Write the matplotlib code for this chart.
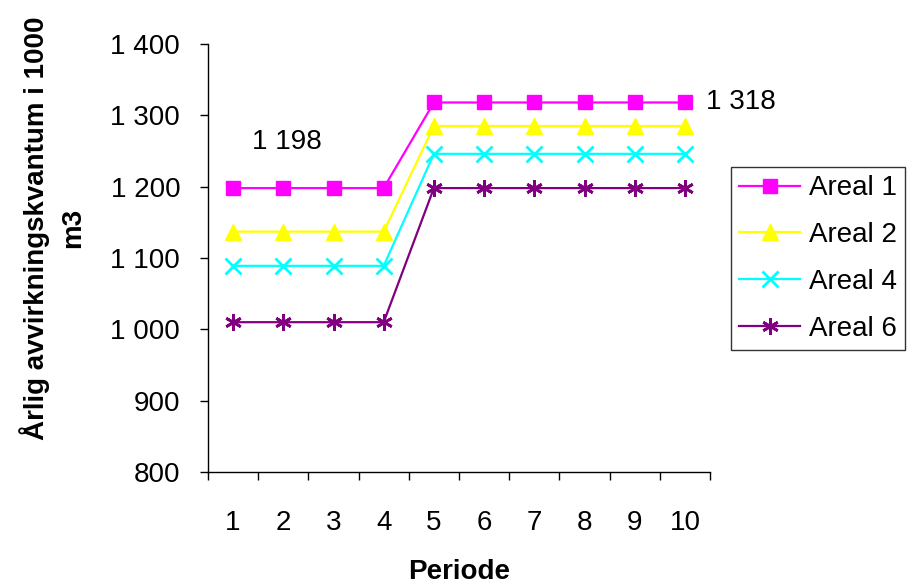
import numpy as np
import matplotlib
matplotlib.use('Agg')
import matplotlib.pyplot as plt
from matplotlib.ticker import FuncFormatter, FixedLocator

plt.rcParams['font.family'] = ['Liberation Sans', 'DejaVu Sans']

# data
periode = [1, 2, 3, 4, 5, 6, 7, 8, 9, 10]
areal1 = [1198, 1198, 1198, 1198, 1318, 1318, 1318, 1318, 1318, 1318]
areal2 = [1137, 1137, 1137, 1137, 1285, 1285, 1285, 1285, 1285, 1285]
areal4 = [1089, 1089, 1089, 1089, 1246, 1246, 1246, 1246, 1246, 1246]
areal6 = [1010, 1010, 1010, 1010, 1198, 1198, 1198, 1198, 1198, 1198]
names = ['Areal 1', 'Areal 2', 'Areal 4', 'Areal 6']
yticks = [800, 900, 1000, 1100, 1200, 1300, 1400]

FS = 20

fig = plt.figure(figsize=(9.09, 5.88), dpi=100)
ax = fig.add_axes([208/909, 1-472/588, 502/909, 428/588])

styles = [('#FF00FF', 's', 10), ('#FFFF00', '^', 11), ('#00FFFF', 'x', 11), ('#800080', (6, 2, 0), 12)]
for ys, name, (c, m, ms) in zip([areal1, areal2, areal4, areal6], names, styles):
    ax.plot(periode, ys, color=c, marker=m, markersize=ms, lw=1.6,
            markeredgewidth=2 if m != 's' and m != '^' else 1, label=name, clip_on=False)

ax.set_xlim(0.5, 10.5)
ax.set_ylim(800, 1400)
ax.set_yticks(yticks)
ax.yaxis.set_major_formatter(FuncFormatter(lambda v, p: '{:,}'.format(int(v)).replace(',', ' ')))
ax.set_xticks(periode)
ax.xaxis.set_minor_locator(FixedLocator(np.arange(0.5, 11, 1)))
ax.tick_params(axis='x', which='major', length=0, pad=27, labelsize=FS)
ax.tick_params(axis='x', which='minor', length=6, direction='out', width=1)
ax.tick_params(axis='y', length=6, direction='out', pad=14, labelsize=FS, width=1)
for s in ['top', 'right']:
    ax.spines[s].set_visible(False)
for s in ['left', 'bottom']:
    ax.spines[s].set_linewidth(1)

ax.text(2.07, 1262, '1 198', fontsize=FS, ha='center', va='center')
ax.text(10.42, 1318, '1 318', fontsize=FS, ha='left', va='center')

ax.set_ylabel('Årlig avvirkningskvantum i 1000\nm3', fontsize=20, fontweight='bold',
              ha='center', va='center', linespacing=1.5)
ax.yaxis.set_label_coords(-0.31, 0.57)
ax.set_xlabel('Periode', fontsize=FS, fontweight='bold', va='center')
ax.xaxis.set_label_coords(0.5, -0.234)

leg = fig.legend(loc='upper left', bbox_to_anchor=(731/909, 1-167/588), fontsize=FS,
                 frameon=True, fancybox=False, edgecolor='black', handlelength=2.2,
                 borderpad=0.3, labelspacing=0.75, handletextpad=0.3, borderaxespad=0)
leg.get_frame().set_linewidth(1)

fig.savefig('out.png', dpi=100)
